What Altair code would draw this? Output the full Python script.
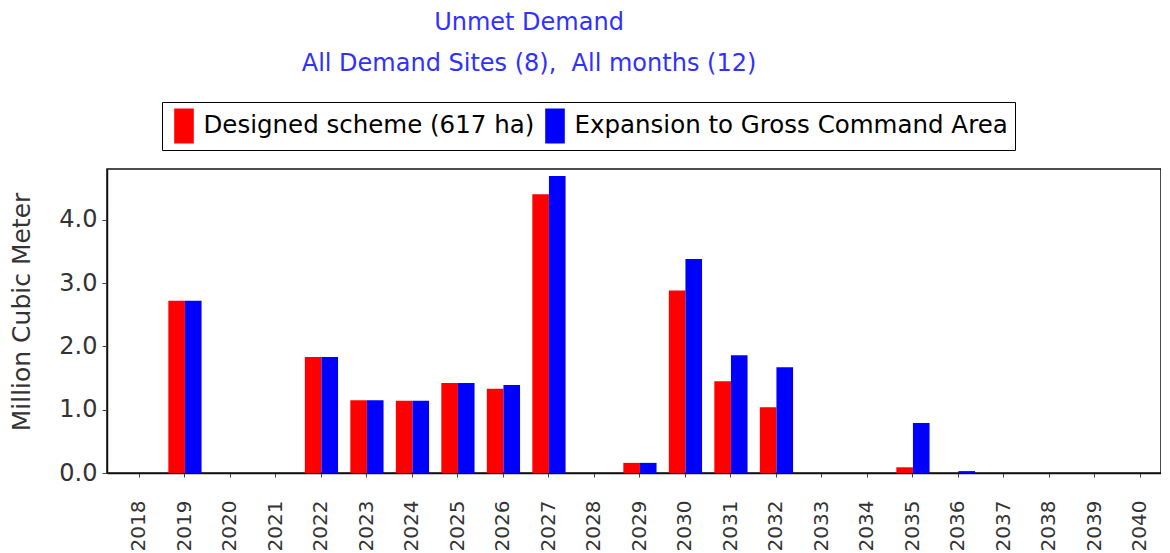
import altair as alt
import pandas as pd

years = [str(y) for y in range(2018, 2041)]
series_names = ["Designed scheme (617 ha)", "Expansion to Gross Command Area"]
designed = [0, 2.72, 0, 0, 1.83, 1.15, 1.14, 1.42, 1.33, 4.40, 0, 0.16,
            2.88, 1.45, 1.04, 0, 0, 0.09, 0, 0, 0, 0, 0]
expansion = [0, 2.72, 0, 0, 1.83, 1.15, 1.14, 1.42, 1.39, 4.69, 0, 0.16,
             3.38, 1.86, 1.67, 0, 0, 0.79, 0.03, 0, 0, 0, 0]
colors = ["#ff0000", "#0000ff"]
y_ticks = [0, 1, 2, 3, 4]

rows = []
for i, y in enumerate(years):
    rows.append({"year": y, "series": series_names[0], "value": designed[i]})
    rows.append({"year": y, "series": series_names[1], "value": expansion[i]})
df = pd.DataFrame(rows)

FONT = "DejaVu Sans"

chart = alt.Chart(df).mark_bar().encode(
    x=alt.X("year:N", sort=years,
            scale=alt.Scale(paddingInner=0.27, paddingOuter=0.2175, align=0.8),
            axis=alt.Axis(title=None, labelAngle=270, labelFont=FONT, labelFontSize=20,
                          labelColor="#333", labelPadding=23, tickSize=4, tickColor="#444",
                          domainColor="#111", domainWidth=1.5, grid=False)),
    xOffset=alt.XOffset("series:N", sort=series_names),
    y=alt.Y("value:Q", scale=alt.Scale(domain=[0, 4.8], nice=False),
            axis=alt.Axis(title="Million Cubic Meter", values=y_ticks, format=".1f",
                          labelFont=FONT, labelFontSize=24, labelColor="#333",
                          labelPadding=5, tickSize=5, tickColor="#444",
                          titleFont=FONT, titleFontSize=25, titleFontWeight="normal",
                          titleColor="#333", titlePadding=24, titleY=142.5,
                          domainColor="#111", domainWidth=1.5, grid=False)),
    color=alt.Color("series:N", sort=series_names,
                    scale=alt.Scale(domain=series_names, range=colors),
                    legend=alt.Legend(title=None, orient="none", direction="horizontal",
                                      legendX=55, legendY=-67, padding=6.5,
                                      symbolType="M-0.674,-1H0.446V1H-0.674Z",
                                      symbolSize=1225, symbolStrokeWidth=0, symbolOpacity=1,
                                      labelFont=FONT, labelFontSize=24.5, labelColor="#000",
                                      labelOffset=0, labelLimit=1000, columnPadding=5,
                                      strokeColor="#000", fillColor="#ffffff")),
).properties(
    width=1054,
    height=304,
    title=alt.TitleParams(
        text="Unmet Demand",
        subtitle="All Demand Sites (8),\u00a0 All months (12)",
        anchor="middle", frame="group", dx=-105, dy=-22,
        font=FONT, fontSize=24, fontWeight="normal", color="#3030ff",
        subtitleFont=FONT, subtitleFontSize=24, subtitleColor="#3030ff",
        subtitlePadding=17,
    ),
    autosize=alt.AutoSizeParams(type="none"),
    padding={"left": 99, "top": 161, "right": 0, "bottom": 80},
).configure(
    background="white"
).configure_view(
    stroke="#111", strokeWidth=1.5
)

chart.save("out.html", embed_options={"renderer": "svg", "actions": False})
